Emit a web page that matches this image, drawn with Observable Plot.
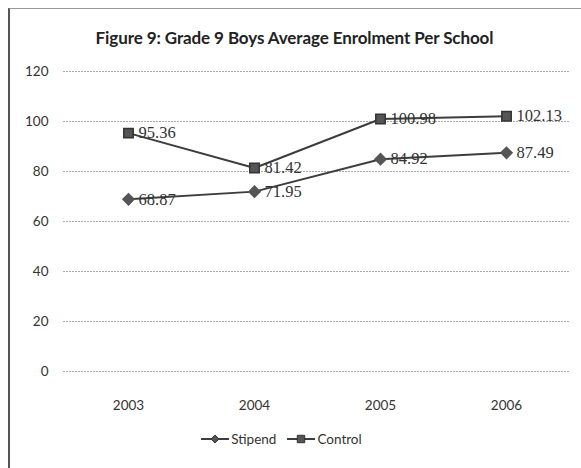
<!DOCTYPE html>
<html>
<head>
<meta charset="utf-8">
<script src="https://cdn.jsdelivr.net/npm/d3@7"></script>
<script src="https://cdn.jsdelivr.net/npm/@observablehq/plot@0.6"></script>
<style>
  html, body { margin: 0; padding: 0; background: #fff; }
  #wrap { position: relative; width: 581px; height: 468px; overflow: hidden; background: #fff; }
  #frame { position: absolute; left: 8px; top: 8px; width: 580px; height: 470px; border-left: 2px solid #555; border-top: 1px solid #999; box-sizing: border-box; }
  #title { position: absolute; left: 0; width: 581px; top: 27px; text-align: center; font-family: Lato, "Open Sans", sans-serif; font-weight: bold; font-size: 17px; color: #222; letter-spacing: -0.1px; padding-left: 8px; box-sizing: border-box; }
  #chart { position: absolute; left: 0; top: 55px; }
  #legend { position: absolute; left: 0; width: 562px; top: 431px; text-align: center; font-family: Lato, "Open Sans", sans-serif; font-size: 13.5px; color: #333; }
  #legend span.item { display: inline-flex; align-items: center; margin: 0 5px; }
  #legend svg { margin-right: 1px; }
</style>
</head>
<body>
<div id="wrap">
  <div id="frame"></div>
  <div id="title">Figure 9: Grade 9 Boys Average Enrolment Per School</div>
  <div id="chart"></div>
  <div id="legend"></div>
</div>
<script>
const years = ["2003", "2004", "2005", "2006"];
const stipend = [68.87, 71.95, 84.92, 87.49];
const control = [95.36, 81.42, 100.98, 102.13];
const yTicks = [0, 20, 40, 60, 80, 100, 120];
const seriesNames = ["Stipend", "Control"];

const data = [
  ...years.map((y, i) => ({year: y, value: stipend[i], series: seriesNames[0]})),
  ...years.map((y, i) => ({year: y, value: control[i], series: seriesNames[1]}))
];
const sData = data.filter(d => d.series === "Stipend");
const cData = data.filter(d => d.series === "Control");

const lineColor = "#3d3d3d";
const markColor = "#555";

const chart = Plot.plot({
  width: 581,
  height: 366,
  marginLeft: 63,
  marginRight: 11,
  marginTop: 16,
  marginBottom: 50,
  style: {fontFamily: "Lato, 'Open Sans', sans-serif", fontSize: "13.5px", color: "#333", background: "transparent"},
  x: {type: "point", domain: years, padding: 0.5, label: null, tickSize: 0, tickPadding: 29},
  y: {domain: [0, 120], ticks: yTicks, label: null, tickSize: 0, tickPadding: 15},
  marks: [
    Plot.ruleY(yTicks, {stroke: "#aaa", strokeWidth: 1, strokeDasharray: "2,1"}),
    Plot.line(sData, {x: "year", y: "value", stroke: lineColor, strokeWidth: 2}),
    Plot.line(cData, {x: "year", y: "value", stroke: lineColor, strokeWidth: 2}),
    Plot.dot(sData, {x: "year", y: "value", symbol: "diamond2", r: 5, fill: markColor, stroke: markColor}),
    Plot.dot(cData, {x: "year", y: "value", symbol: "square2", r: 6, fill: markColor, stroke: "#333"}),
    Plot.text(data, {x: "year", y: "value", text: d => d.value.toFixed(2), dx: 10, textAnchor: "start", fontFamily: "'Liberation Serif', serif", fontSize: 16.5, fill: "#333"})
  ]
});
document.getElementById("chart").appendChild(chart);

// legend
const legend = document.getElementById("legend");
seriesNames.forEach(name => {
  const item = document.createElement("span");
  item.className = "item";
  const s = d3.create("svg").attr("width", 30).attr("height", 14);
  s.append("line").attr("x1", 1).attr("x2", 29).attr("y1", 7).attr("y2", 7).attr("stroke", lineColor).attr("stroke-width", 2);
  const p = d3.symbol(name === "Stipend" ? d3.symbolDiamond2 : d3.symbolSquare2, name === "Stipend" ? 40 : 70)();
  s.append("path").attr("d", p).attr("transform", "translate(15,7)").attr("fill", markColor).attr("stroke", "#333");
  item.appendChild(s.node());
  const t = document.createElement("span");
  t.textContent = name;
  item.appendChild(t);
  legend.appendChild(item);
});
</script>
</body>
</html>
